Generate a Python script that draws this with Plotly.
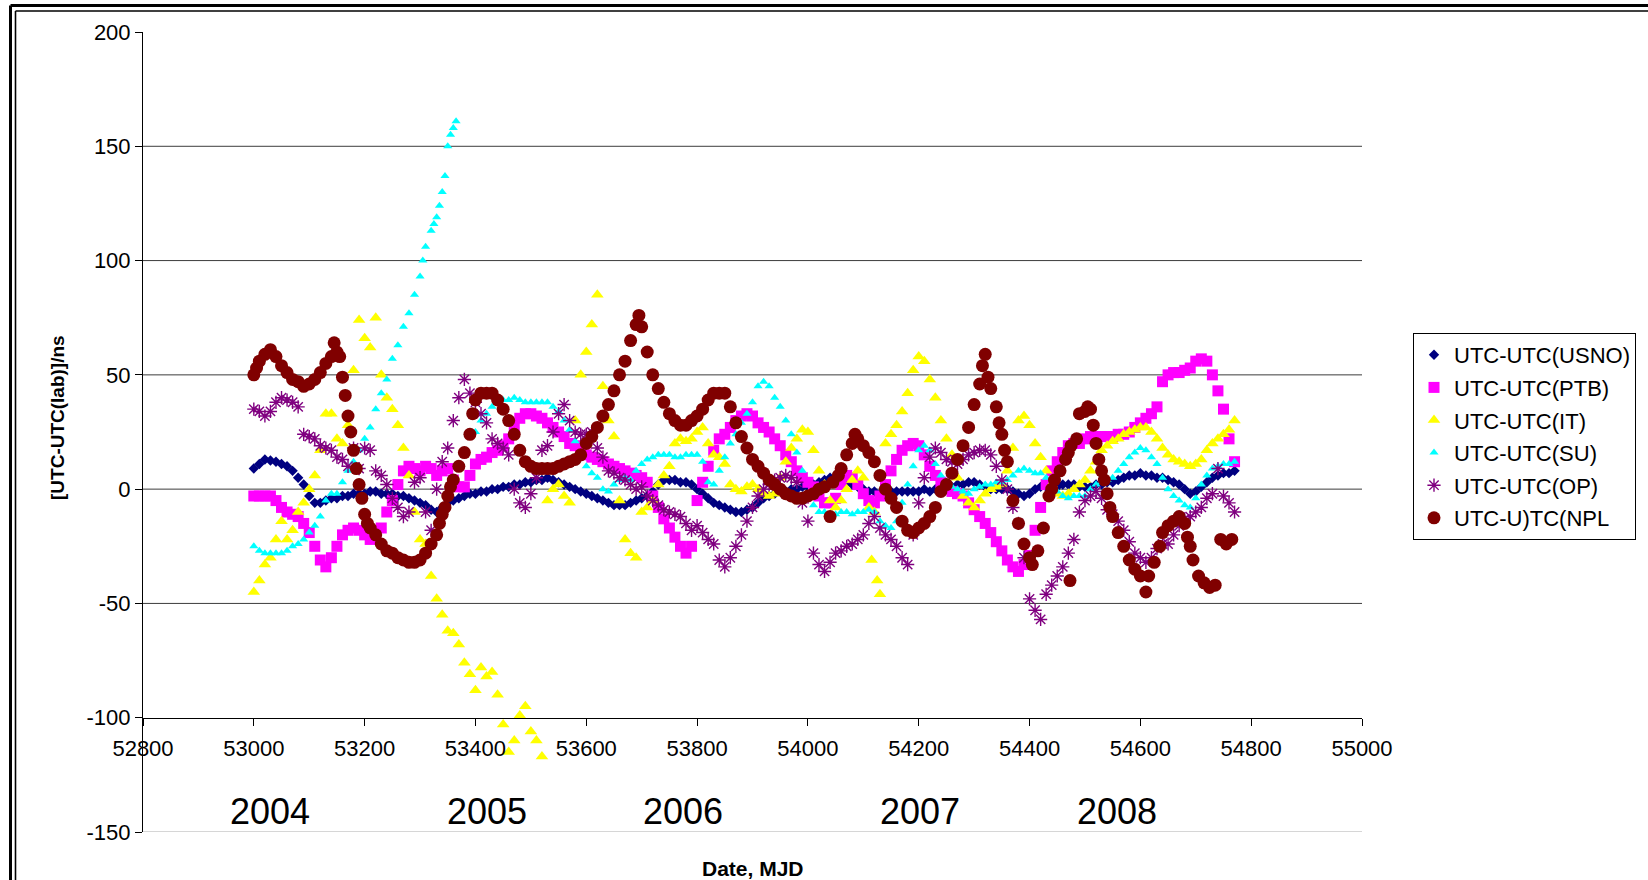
import plotly.graph_objects as go

# ---------------- data (MJD, ns) ----------------
USNO = [(53000, 9), (53010, 11), (53020, 13), (53030, 12.5), (53040, 12), (53050, 11), (53060, 10), (53070, 8),
        (53080, 5), (53090, 2), (53100, -3), (53110, -6), (53120, -6), (53130, -5), (53140, -4), (53150, -4),
        (53160, -3), (53170, -3), (53180, -2), (53190, -2), (53200, -2), (53210, -1), (53220, -1), (53230, -2),
        (53240, -2), (53250, -2), (53260, -3), (53270, -3), (53280, -4), (53290, -5), (53300, -6), (53310, -7),
        (53320, -9), (53330, -10), (53340, -8), (53350, -6), (53360, -5), (53370, -4), (53380, -3), (53390, -2),
        (53400, -2), (53410, -1), (53420, -1), (53430, 0), (53440, 0), (53450, 1), (53460, 1), (53470, 2),
        (53480, 2), (53490, 3), (53500, 3), (53510, 4), (53520, 4), (53530, 5), (53540, 4), (53550, 3),
        (53560, 2), (53570, 1), (53580, 0), (53590, -1), (53600, -2), (53610, -3), (53620, -4), (53630, -5),
        (53640, -6), (53650, -7), (53660, -7), (53670, -7), (53680, -6), (53690, -5), (53700, -4), (53710, -3),
        (53720, -1), (53730, 2), (53740, 4), (53750, 4), (53760, 4), (53770, 3), (53780, 3), (53790, 2),
        (53800, 0), (53810, -2), (53820, -4), (53830, -6), (53840, -7), (53850, -8), (53860, -9), (53870, -10),
        (53880, -10), (53890, -9), (53900, -8), (53910, -6), (53920, -4), (53930, -3), (53940, -2), (53950, -1),
        (53960, -1), (53970, 0), (53980, 0), (53990, 1), (54000, 1), (54010, 2), (54020, 3), (54030, 4),
        (54040, 5), (54050, 5), (54060, 4), (54070, 3), (54080, 2), (54090, 1), (54100, 0), (54110, -1),
        (54120, -1), (54130, -2), (54140, -2), (54150, -1), (54160, -1), (54170, -1), (54180, -1), (54190, -1),
        (54200, -1), (54210, 0), (54220, -1), (54230, 0), (54240, 0), (54250, 0), (54260, 1), (54270, 2),
        (54280, 2), (54290, 3), (54300, 3), (54310, 2), (54320, 1), (54330, 0), (54340, 0), (54350, 0),
        (54360, 0), (54370, -1), (54380, -2), (54390, -3), (54400, -2), (54410, 0), (54420, 1), (54430, 1),
        (54440, 1), (54450, 1), (54460, 2), (54470, 2), (54480, 2), (54490, 1), (54500, 1), (54510, 1),
        (54520, 2), (54530, 2), (54540, 3), (54550, 3), (54560, 4), (54570, 5), (54580, 6), (54590, 6),
        (54600, 7), (54610, 6), (54620, 6), (54630, 5), (54640, 5), (54650, 4), (54660, 3), (54670, 2),
        (54680, 0), (54690, -2), (54700, -1), (54710, 1), (54720, 3), (54730, 5), (54740, 6), (54750, 7),
        (54760, 7), (54770, 8)]

PTB = [(53000, -3), (53010, -3), (53020, -3), (53030, -3), (53040, -5), (53050, -8), (53060, -10), (53070, -11),
       (53080, -12), (53090, -15), (53100, -19), (53110, -25), (53120, -31), (53130, -34), (53140, -30), (53150, -25),
       (53160, -20), (53170, -18), (53180, -17), (53190, -18), (53200, -20), (53210, -22), (53220, -21), (53230, -17),
       (53240, -10), (53250, -5), (53260, 2), (53270, 8), (53280, 10), (53290, 9), (53300, 8), (53310, 10),
       (53320, 9), (53330, 6), (53340, 8), (53350, 9), (53360, 4), (53370, 1), (53380, 1), (53390, 6),
       (53400, 11), (53410, 13), (53420, 14), (53430, 16), (53440, 17), (53450, 19), (53460, 22), (53470, 27),
       (53480, 31), (53490, 33), (53500, 33), (53510, 32), (53520, 31), (53530, 29), (53540, 27), (53550, 25),
       (53560, 23), (53570, 20), (53580, 19), (53590, 17), (53600, 15), (53610, 14), (53620, 13), (53630, 12),
       (53640, 11), (53650, 10), (53660, 9), (53670, 8), (53680, 7), (53690, 6), (53700, 5), (53710, 3),
       (53720, -3), (53730, -8), (53740, -13), (53750, -17), (53760, -21), (53770, -25), (53780, -28), (53790, -25),
       (53800, -5), (53810, 3), (53820, 10), (53830, 17), (53840, 22), (53850, 24), (53860, 27), (53870, 30),
       (53880, 32), (53890, 33), (53900, 32), (53910, 29), (53920, 27), (53930, 25), (53940, 22), (53950, 19),
       (53960, 15), (53970, 12), (53980, 8), (53990, 5), (54000, 3), (54010, 1), (54020, -3), (54030, -6),
       (54040, -6), (54050, -4), (54060, 2), (54070, 6), (54080, 5), (54090, 2), (54100, -2), (54110, -5),
       (54120, -6), (54130, -3), (54140, 2), (54150, 8), (54160, 13), (54170, 17), (54180, 19), (54190, 20),
       (54200, 19), (54210, 15), (54220, 10), (54230, 6), (54240, 3), (54250, 1), (54260, -1), (54270, -2),
       (54280, -3), (54290, -6), (54300, -9), (54310, -12), (54320, -15), (54330, -19), (54340, -23), (54350, -27),
       (54360, -31), (54370, -34), (54380, -36), (54390, -33), (54400, -29), (54410, -18), (54420, -8), (54430, 2),
       (54440, 8), (54450, 12), (54460, 16), (54470, 19), (54480, 20), (54490, 20), (54500, 22), (54510, 23),
       (54520, 23), (54530, 23), (54540, 23), (54550, 23), (54560, 24), (54570, 24), (54580, 25), (54590, 27),
       (54600, 29), (54610, 31), (54620, 33), (54630, 36), (54640, 47), (54650, 50), (54660, 51), (54670, 51),
       (54680, 52), (54690, 53), (54700, 56), (54710, 57), (54720, 56), (54730, 50), (54740, 43), (54750, 35),
       (54760, 22), (54770, 12)]

IT = [(53000, -45), (53010, -40), (53020, -33), (53030, -30), (53040, -22), (53050, -14), (53060, -22), (53070, -18),
      (53080, -10), (53090, -6), (53100, 0), (53110, 6), (53120, 17), (53130, 33), (53140, 33), (53150, 22),
      (53160, 20), (53170, 28), (53180, 52), (53190, 74), (53200, 66), (53210, 62), (53220, 75), (53230, 50),
      (53240, 40), (53250, 35), (53260, 28), (53270, 18), (53280, 6), (53290, -10), (53300, -22), (53310, -24),
      (53320, -38), (53330, -48), (53340, -55), (53350, -62), (53360, -63), (53370, -68), (53380, -76), (53390, -81),
      (53400, -88), (53410, -78), (53420, -82), (53430, -80), (53440, -90), (53450, -103), (53460, -115), (53470, -110),
      (53480, -99), (53490, -95), (53500, -106), (53510, -110), (53520, -117), (53530, -5), (53540, 0), (53550, 2),
      (53560, -3), (53570, -6), (53580, 30), (53590, 50), (53600, 60), (53610, 72), (53620, 85), (53630, 45),
      (53640, 30), (53650, 23), (53660, -5), (53670, -22), (53680, -28), (53690, -30), (53700, -10), (53710, -8),
      (53720, -5), (53730, 2), (53740, 6), (53750, 10), (53760, 20), (53770, 22), (53780, 21), (53790, 22),
      (53800, 25), (53810, 27), (53820, 20), (53830, 15), (53840, 14), (53850, 11), (53860, 2), (53870, 0),
      (53880, -1), (53890, 1), (53900, 2), (53910, 0), (53920, -2), (53930, -3), (53940, -2), (53950, 5),
      (53960, 12), (53970, 18), (53980, 22), (53990, 26), (54000, 25), (54010, 17), (54020, 8), (54030, 2),
      (54040, -5), (54050, -8), (54060, -5), (54070, 0), (54080, 4), (54090, 8), (54100, 5), (54110, -8),
      (54115, -31), (54120, -10), (54125, -40), (54130, -46), (54140, 20), (54150, 24), (54160, 28), (54170, 34),
      (54180, 42), (54190, 52), (54200, 58), (54210, 56), (54220, 48), (54230, 40), (54240, 30), (54250, 22),
      (54260, 15), (54270, 5), (54280, -3), (54290, -6), (54300, -8), (54310, -5), (54320, -2), (54330, 0),
      (54340, 1), (54350, 2), (54360, 8), (54370, 18), (54380, 30), (54390, 32), (54400, 28), (54410, 20),
      (54420, 14), (54430, 8), (54440, 2), (54450, -2), (54460, -3), (54470, -2), (54480, 0), (54490, 2),
      (54500, 4), (54510, 8), (54520, 12), (54530, 17), (54540, 19), (54550, 21), (54560, 22), (54570, 24),
      (54580, 25), (54590, 26), (54600, 27), (54610, 27), (54620, 25), (54630, 22), (54640, 18), (54650, 15),
      (54660, 13), (54670, 12), (54680, 11), (54690, 10), (54700, 11), (54710, 13), (54720, 17), (54730, 20),
      (54740, 22), (54750, 24), (54760, 26), (54770, 30)]

SU = [(53000, -25), (53010, -27), (53020, -28), (53030, -28), (53040, -28), (53050, -28), (53060, -27), (53070, -25),
      (53080, -24), (53090, -22), (53100, -19), (53110, -16), (53120, -12), (53130, -5), (53140, -2), (53150, -2),
      (53160, 3), (53170, 8), (53180, 12), (53190, 17), (53200, 22), (53210, 27), (53220, 35), (53230, 42),
      (53240, 48), (53250, 57), (53260, 63), (53270, 71), (53280, 77), (53290, 85), (53300, 93), (53305, 100),
      (53310, 106), (53320, 113), (53325, 116), (53330, 119), (53335, 124), (53340, 130), (53345, 137), (53350, 150),
      (53355, 155), (53360, 158), (53365, 161),
      (53400, 25), (53410, 30), (53420, 33), (53430, 36), (53440, 38), (53450, 39), (53460, 39), (53470, 40),
      (53480, 39), (53490, 38), (53500, 38), (53510, 38), (53520, 38), (53530, 38), (53540, 36), (53550, 34),
      (53560, 30), (53570, 26), (53580, 21), (53590, 16), (53600, 10), (53610, 7), (53620, 5), (53630, 0),
      (53640, -1), (53650, 2), (53660, 4), (53670, 5), (53680, 4), (53690, 8), (53700, 11), (53710, 13),
      (53720, 14), (53730, 15), (53740, 15), (53750, 15), (53760, 14), (53770, 14), (53780, 15), (53790, 15),
      (53800, 15), (53810, 12), (53820, 3), (53830, 2), (53840, 8), (53850, 14), (53860, 20), (53870, 24),
      (53880, 29), (53890, 33), (53900, 38), (53910, 45), (53920, 47), (53930, 45), (53940, 40), (53950, 36),
      (53960, 30), (53970, 24), (53980, 16), (53990, 8), (54000, -2), (54010, -7), (54020, -10), (54030, -10),
      (54040, -11), (54050, -11), (54060, -10), (54070, -10), (54080, -11), (54090, -10), (54100, -10), (54110, -9),
      (54120, -10), (54130, -14), (54140, -16), (54150, -17), (54160, -14), (54170, -6), (54180, 2), (54190, 10),
      (54200, 17), (54210, 19), (54220, 17), (54230, 11), (54240, 6), (54250, 3), (54260, 1), (54270, 0),
      (54280, -1), (54290, -2), (54300, 0), (54310, 1), (54320, 2), (54330, 2), (54340, 3), (54350, 3),
      (54360, 4), (54370, 6), (54380, 8), (54390, 9), (54400, 8), (54410, 7), (54420, 7), (54430, 5),
      (54440, 2), (54450, -1), (54460, -3), (54470, -4), (54480, -3), (54490, -3), (54500, -3), (54510, 0),
      (54520, 2), (54530, 3), (54540, 4), (54550, 5), (54560, 8), (54570, 11), (54580, 14), (54590, 16),
      (54600, 18), (54610, 17), (54620, 14), (54630, 11), (54640, 5), (54650, 0), (54660, -3), (54670, -5),
      (54680, -7), (54690, -8), (54700, -4), (54710, 2), (54720, 6), (54730, 9), (54740, 10), (54750, 11),
      (54760, 11), (54770, 12)]

OP = [(53000, 35), (53010, 34), (53020, 32), (53030, 34), (53040, 38), (53050, 40), (53060, 39), (53070, 38),
      (53080, 36), (53090, 24), (53100, 23), (53110, 22), (53120, 19), (53130, 18), (53140, 17), (53150, 14),
      (53160, 13), (53170, 10), (53180, 18), (53190, 9), (53200, 18), (53210, 17), (53220, 8), (53230, 6),
      (53240, 2), (53250, -4), (53260, -8), (53270, -12), (53280, -10), (53290, 3), (53300, 5), (53310, -10),
      (53320, -18), (53330, 0), (53340, 12), (53350, 18), (53360, 30), (53370, 40), (53380, 48), (53390, 42),
      (53400, 38), (53410, 33), (53420, 29), (53430, 22), (53440, 20), (53450, 18), (53460, 15), (53470, 0),
      (53480, -6), (53490, -8), (53500, -2), (53510, 5), (53520, 17), (53530, 19), (53540, 25), (53550, 33),
      (53560, 37), (53570, 30), (53580, 25), (53590, 24), (53600, 24), (53610, 25), (53620, 18), (53630, 14),
      (53640, 8), (53650, 7), (53660, 5), (53670, 4), (53680, 2), (53690, 0), (53700, 1), (53710, -3),
      (53720, -5), (53730, -7), (53740, -9), (53750, -10), (53760, -11), (53770, -12), (53780, -15), (53790, -18),
      (53800, -16), (53810, -19), (53820, -22), (53830, -24), (53840, -31), (53850, -34), (53860, -30), (53870, -25),
      (53880, -20), (53890, -14), (53900, -8), (53910, -3), (53920, 0), (53930, 2), (53940, 4), (53950, 5),
      (53960, 6), (53970, 5), (53980, 3), (53990, -6), (54000, -14), (54010, -28), (54020, -33), (54030, -36),
      (54040, -32), (54050, -28), (54060, -27), (54070, -25), (54080, -24), (54090, -22), (54100, -20), (54110, -15),
      (54120, -12), (54130, -17), (54140, -20), (54150, -22), (54160, -25), (54170, -30), (54180, -33), (54190, -20),
      (54200, -6), (54210, 5), (54220, 14), (54230, 18), (54240, 16), (54250, 13), (54260, 12), (54270, 11),
      (54280, 13), (54290, 15), (54300, 16), (54310, 17), (54320, 17), (54330, 15), (54340, 10), (54350, 4),
      (54360, 0), (54370, -8), (54380, -15), (54390, -30), (54400, -48), (54410, -53), (54420, -57), (54430, -46),
      (54440, -42), (54450, -38), (54460, -34), (54470, -28), (54480, -22), (54490, -10), (54500, -5), (54510, -3),
      (54520, -1), (54530, -4), (54540, -9), (54550, -11), (54560, -14), (54570, -18), (54580, -23), (54590, -28),
      (54600, -30), (54610, -32), (54620, -30), (54630, -26), (54640, -24), (54650, -24), (54660, -20), (54670, -16),
      (54680, -13), (54690, -12), (54700, -10), (54710, -8), (54720, -4), (54730, -2), (54740, 9), (54750, -3),
      (54760, -6), (54770, -10)]

NPL = [(53000, 50), (53005, 53), (53010, 56), (53020, 59), (53030, 61), (53040, 58), (53050, 54), (53060, 51),
       (53070, 48), (53080, 47), (53090, 45), (53100, 46), (53110, 48), (53120, 51), (53130, 55), (53140, 58),
       (53145, 64), (53150, 60), (53155, 58), (53160, 49), (53165, 41), (53170, 32), (53175, 25), (53180, 17),
       (53185, 9), (53190, 2), (53195, -4), (53200, -11), (53205, -15), (53210, -17), (53220, -20), (53230, -24),
       (53240, -27), (53250, -28), (53260, -30), (53270, -31), (53280, -32), (53290, -32), (53300, -31), (53310, -28),
       (53320, -24), (53330, -20), (53335, -15), (53340, -11), (53345, -8), (53350, -3), (53355, 1), (53360, 4),
       (53370, 10), (53380, 16), (53390, 24), (53395, 33), (53400, 39), (53410, 42), (53420, 42), (53430, 42),
       (53440, 39), (53450, 35), (53460, 30), (53470, 24), (53480, 17), (53490, 12), (53500, 10), (53510, 9),
       (53520, 9), (53530, 9), (53540, 9), (53550, 10), (53560, 11), (53570, 12), (53580, 13), (53590, 15),
       (53600, 20), (53610, 23), (53620, 27), (53630, 32), (53640, 37), (53650, 43), (53660, 50), (53670, 56),
       (53680, 65), (53690, 72), (53695, 76), (53700, 71), (53710, 60), (53720, 50), (53730, 44), (53740, 38),
       (53750, 33), (53760, 30), (53770, 28), (53780, 28), (53790, 30), (53800, 32), (53810, 35), (53820, 39),
       (53830, 42), (53840, 42), (53850, 42), (53860, 36), (53870, 29), (53880, 23), (53890, 18), (53900, 13),
       (53910, 10), (53920, 7), (53930, 4), (53940, 2), (53950, 0), (53960, -2), (53970, -3), (53980, -4),
       (53990, -4), (54000, -3), (54010, -2), (54020, 0), (54030, 1), (54040, -12), (54045, 3), (54055, 6),
       (54060, 9), (54070, 15), (54080, 20), (54085, 24), (54090, 22), (54100, 19), (54110, 16), (54120, 12),
       (54130, 6), (54140, 0), (54150, -4), (54160, -8), (54170, -14), (54180, -18), (54190, -19), (54200, -17),
       (54210, -15), (54220, -12), (54230, -8), (54240, -1), (54250, 2), (54260, 7), (54270, 13), (54280, 19),
       (54290, 27), (54300, 37), (54310, 46), (54315, 54), (54320, 59), (54325, 49), (54330, 44), (54340, 36),
       (54345, 29), (54350, 24), (54355, 17), (54360, 12), (54370, -5), (54380, -15), (54390, -24), (54400, -30),
       (54405, -33), (54415, -27), (54425, -17), (54435, -3), (54440, 0), (54445, 4), (54455, 8), (54465, 13),
       (54470, 16), (54473, -40), (54475, 19), (54485, 22), (54490, 33), (54500, 34), (54505, 36), (54510, 35),
       (54515, 28), (54520, 20), (54525, 13), (54530, 8), (54535, 4), (54540, -2), (54545, -8), (54550, -12),
       (54560, -19), (54570, -25), (54580, -31), (54590, -35), (54600, -38), (54610, -45), (54615, -38), (54625, -32),
       (54635, -25), (54640, -19), (54650, -16), (54660, -14), (54670, -12), (54680, -15), (54685, -21), (54690, -25),
       (54695, -31), (54705, -38), (54715, -41), (54725, -43), (54735, -42), (54745, -22), (54755, -24), (54765, -22)]

SERIES_NAMES = ["UTC-UTC(USNO)", "UTC-UTC(PTB)", "UTC-UTC(IT)", "UTC-UTC(SU)", "UTC-UTC(OP)", "UTC-U)TC(NPL"]
YEAR_LABELS = ["2004", "2005", "2006", "2007", "2008"]
YEAR_MJD = [53029, 53420, 53774, 54203, 54557]
Y_TICKS = [-150, -100, -50, 0, 50, 100, 150, 200]
GRID_VALUES = [150, 100, 50, 0, -50]

# ---------------- layout helpers ----------------
W, H = 1648, 880
ML, MR, MT, MB = 143, 286, 32, 48
PW, PH = W - ML - MR, H - MT - MB


def px(x):
    return (x - ML) / PW


def py(y):
    return (H - MB - y) / PH


def split(pairs):
    return [p[0] for p in pairs], [p[1] for p in pairs]


FONT = 'Arial, "Liberation Sans", sans-serif'

styles = [
    dict(symbol="diamond", size=8, color="#000080"),
    dict(symbol="square", size=11, color="#FF00FF"),
    dict(symbol="triangle-up", size=11, color="#FFFF00"),
    dict(symbol="triangle-up", size=8, color="#00FFFF"),
    dict(symbol="asterisk-open", size=11, color="#800080", line=dict(width=1.4, color="#800080")),
    dict(symbol="circle", size=13, color="#800000"),
]

fig = go.Figure()
for name, data, mk in zip(SERIES_NAMES, [USNO, PTB, IT, SU, OP, NPL], styles):
    xs, ys = split(data)
    marker = dict(mk)
    if "line" not in marker:
        marker["line"] = dict(width=0)
    fig.add_trace(go.Scatter(x=xs, y=ys, mode="markers", name=name, legendgroup=name,
                             marker=marker, hoverinfo="x+y+name"))

shapes = []
for g in GRID_VALUES:
    shapes.append(dict(type="line", xref="x domain", yref="y", x0=0, x1=1, y0=g, y1=g,
                       line=dict(color="#3c3c3c", width=1), layer="below"))
shapes.append(dict(type="line", xref="x domain", yref="y", x0=0, x1=1, y0=-150, y1=-150,
                   line=dict(color="#d6d6d6", width=2), layer="below"))
# chart-area double frame (left and top edges visible)
for xo, yo, w in [(10.5, 5.5, 3), (15.5, 11, 1.6)]:
    shapes.append(dict(type="line", xref="paper", yref="paper", x0=px(xo), x1=px(xo), y0=py(yo), y1=py(H + 20),
                       line=dict(color="black", width=w)))
    shapes.append(dict(type="line", xref="paper", yref="paper", x0=px(xo), x1=px(W + 20), y0=py(yo), y1=py(yo),
                       line=dict(color="black", width=w)))

annotations = []
for lab, m in zip(YEAR_LABELS, YEAR_MJD):
    annotations.append(dict(text=lab, x=m, y=-141, xref="x", yref="y", showarrow=False,
                            xanchor="center", yanchor="middle", font=dict(size=36, family=FONT, color="black")))
annotations.append(dict(text="<b>[UTC-UTC(lab)]/ns</b>", x=px(57), y=py(418), xref="paper", yref="paper",
                        showarrow=False, textangle=-90, xanchor="center", yanchor="middle",
                        font=dict(size=19, family=FONT, color="black")))
annotations.append(dict(text="<b>Date, MJD</b>", x=0.5, y=py(868), xref="paper", yref="paper",
                        showarrow=False, xanchor="center", yanchor="middle",
                        font=dict(size=21, family=FONT, color="black")))

fig.update_layout(
    width=W, height=H,
    margin=dict(l=ML, r=MR, t=MT, b=MB, pad=0, autoexpand=False),
    paper_bgcolor="white", plot_bgcolor="white",
    font=dict(family=FONT, size=22, color="black"),
    showlegend=True,
    legend=dict(x=px(1413), y=py(333), xanchor="left", yanchor="top",
                bordercolor="black", borderwidth=1, bgcolor="white",
                font=dict(size=22, family=FONT, color="black"),
                traceorder="grouped", tracegroupgap=1, itemsizing="trace"),
    xaxis=dict(range=[52800, 55000], tick0=52800, dtick=200, tickformat="d",
               anchor="free", position=50 / 350,
               showline=True, linecolor="black", linewidth=1,
               ticks="outside", ticklen=7, tickcolor="black", tickwidth=1,
               ticklabelstandoff=4,
               showgrid=False, zeroline=False, automargin=False,
               tickfont=dict(size=22, family=FONT, color="black")),
    yaxis=dict(range=[-150, 200], tickmode="array", tickvals=Y_TICKS, ticktext=[str(v) for v in Y_TICKS],
               showline=True, linecolor="black", linewidth=1,
               ticks="outside", ticklen=7, tickcolor="black", tickwidth=1,
               showgrid=False, zeroline=False, automargin=False,
               tickfont=dict(size=22, family=FONT, color="black")),
    shapes=shapes,
    annotations=annotations,
)

fig.write_html("out.html",
               config={"displayModeBar": False},
               post_script="document.body.style.margin='0px';document.documentElement.style.overflow='hidden';")
